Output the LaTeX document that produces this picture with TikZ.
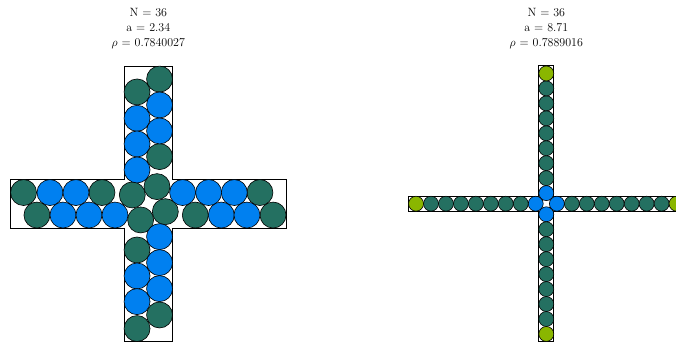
\documentclass[tikz,border=0pt]{standalone}
\usepackage{amsmath}
\usetikzlibrary{positioning}
\definecolor{tealdisk}{RGB}{36,112,97}
\definecolor{bluedisk}{RGB}{0,128,240}
\definecolor{limedisk}{RGB}{138,182,0}

\begin{document}
\begin{tikzpicture}[x=1pt, y=1pt,
    cross/.style={draw, line width=1pt, fill=white},
    teal/.style={draw=black, line width=0.6pt, fill=tealdisk},
    blue/.style={draw=black, line width=0.6pt, fill=bluedisk},
    lime/.style={draw=black, line width=0.6pt, fill=limedisk},
    caption/.style={font=\fontsize{12}{15}\selectfont, inner sep=0pt, anchor=base}
]
\useasboundingbox (0,0) rectangle (676,343);
\clip (0,0) rectangle (676,343);

% Titles
\node[caption] (nA) at (148.3,326) {N = 36};
\node[caption] (aA) at (148.3,311) {a = 2.34};
\node[caption] (rhoA) at (148.3,296) {$\rho$ = 0.7840027};
\node[caption] (nB) at (546.3,326) {N = 36};
\node[caption] (aB) at (546.3,311) {a = 8.71};
\node[caption] (rhoB) at (546.3,296) {$\rho$ = 0.7889016};

% Left cross, a = 2.34
\begin{scope}[shift={(148.3,139.2)}, x=48.5pt, y=48.5pt]
\draw[cross] (0.5,0.5) -- (0.5,2.84) -- (-0.5,2.84) -- (-0.5,0.5) -- (-2.84,0.5) -- (-2.84,-0.5)
  -- (-0.5,-0.5) -- (-0.5,-2.84) -- (0.5,-2.84) -- (0.5,-0.5) -- (2.84,-0.5) -- (2.84,0.5) -- cycle;
\foreach \p in {(0.232,2.572), (-0.232,2.306), (0.232,0.973), (0.179,0.354), (-0.330,0.182),
  (0.351,-0.162), (-0.158,-0.333), (-0.232,-0.952), (0.232,-2.292), (-0.232,-2.572),
  (-2.572,0.232), (-0.955,0.232), (-2.296,-0.232), (2.302,0.232), (0.969,-0.232), (2.572,-0.232)}
  \draw[teal] \p circle [radius=0.268];
\foreach \p in {(0.232,2.038), (-0.232,1.763), (0.232,1.502), (-0.232,1.234), (-0.232,0.698),
  (0.232,-0.677), (0.232,-1.213), (-0.232,-1.488), (0.232,-1.749), (-0.232,-2.017),
  (-2.027,0.232), (-1.491,0.232), (-1.759,-0.232), (-1.223,-0.232), (-0.687,-0.232),
  (0.708,0.232), (1.244,0.232), (1.773,0.232), (1.505,-0.232), (2.034,-0.232)}
  \draw[blue] \p circle [radius=0.268];
\end{scope}

% Right cross, a = 8.71
\begin{scope}[shift={(546.3,139.3)}, x=14.96pt, y=14.96pt]
\draw[cross] (0.5,0.5) -- (0.5,9.21) -- (-0.5,9.21) -- (-0.5,0.5) -- (-9.21,0.5) -- (-9.21,-0.5)
  -- (-0.5,-0.5) -- (-0.5,-9.21) -- (0.5,-9.21) -- (0.5,-0.5) -- (9.21,-0.5) -- (9.21,0.5) -- cycle;
\foreach \ang in {0,90,180,270} {
  \begin{scope}[rotate=\ang]
  \draw[blue] (0.707,0) circle [radius=0.5];
  \foreach \k in {1,...,7}
    \draw[teal] (0.707+\k,0) circle [radius=0.5];
  \draw[lime] (8.707,0) circle [radius=0.5];
  \end{scope}
}
\end{scope}

\end{tikzpicture}
\end{document}
